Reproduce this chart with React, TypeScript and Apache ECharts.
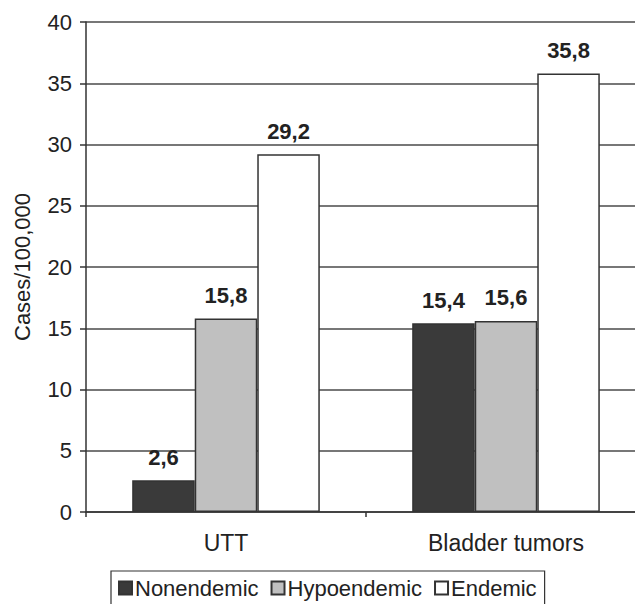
import React, { useEffect, useRef } from "react";
import * as echarts from "echarts";

const categories = ["UTT", "Bladder tumors"];
const seriesNames = ["Nonendemic", "Hypoendemic", "Endemic"];
const nonendemic = [2.6, 15.4];
const hypoendemic = [15.8, 15.6];
const endemic = [29.2, 35.8];
const seriesColors = ["#3a3a3a", "#c0c0c0", "#ffffff"];
const yAxisName = "Cases/100,000";

const FONT = "Liberation Sans, Arial, sans-serif";

export default function App() {
  const ref = useRef<HTMLDivElement>(null);
  useEffect(() => {
    if (!ref.current) return;
    const chart = echarts.init(ref.current, undefined, { renderer: "svg" });
    const values = [nonendemic, hypoendemic, endemic];
    chart.setOption({
      animation: false,
      backgroundColor: "#ffffff",
      textStyle: { fontFamily: FONT },
      grid: { left: 86, top: 22, width: 560, height: 490, containLabel: false },
      legend: {
        left: 111,
        top: 571,
        orient: "horizontal",
        itemWidth: 13,
        itemHeight: 13,
        itemGap: 12,
        padding: [6, 8, 10, 7],
        borderColor: "#333",
        borderWidth: 1.2,
        borderRadius: 0,
        icon: "rect",
        textStyle: { fontFamily: FONT, fontSize: 22, color: "#222", padding: [0, 0, 0, -2] },
        data: seriesNames,
      },
      xAxis: {
        type: "category",
        data: categories,
        axisLine: { lineStyle: { color: "#333", width: 1.5 } },
        axisTick: { show: true, length: 5, lineStyle: { color: "#333", width: 1.5 } },
        axisLabel: { fontFamily: FONT, fontSize: 23, color: "#222", margin: 19 },
      },
      yAxis: {
        type: "value",
        min: 0,
        max: 40,
        interval: 5,
        name: yAxisName,
        nameLocation: "middle",
        nameGap: 53,
        nameTextStyle: { fontFamily: FONT, fontSize: 22, color: "#222" },
        axisLine: { show: true, lineStyle: { color: "#333", width: 1.5 } },
        axisTick: { show: true, length: 6, lineStyle: { color: "#333", width: 1.5 } },
        axisLabel: { fontFamily: FONT, fontSize: 22, color: "#222", margin: 14 },
        splitLine: { show: true, lineStyle: { color: "#4a4a4a", width: 1.5 } },
      },
      series: seriesNames.map((name, i) => ({
        name,
        type: "bar",
        data: values[i],
        barGap: "0%",
        barCategoryGap: "33%",
        itemStyle: { color: seriesColors[i], borderColor: "#333", borderWidth: 1.5 },
        label: {
          show: true,
          position: "top",
          distance: 12,
          fontFamily: FONT,
          fontSize: 22,
          fontWeight: "bold",
          color: "#222",
          formatter: (p: any) => String(p.value).replace(".", ","),
        },
      })),
    });
    return () => chart.dispose();
  }, []);
  return (
    <div style={{ position: "absolute", left: 0, top: 0, width: 635, height: 604, overflow: "hidden" }}>
      <div ref={ref} style={{ width: 660, height: 604 }} />
    </div>
  );
}
